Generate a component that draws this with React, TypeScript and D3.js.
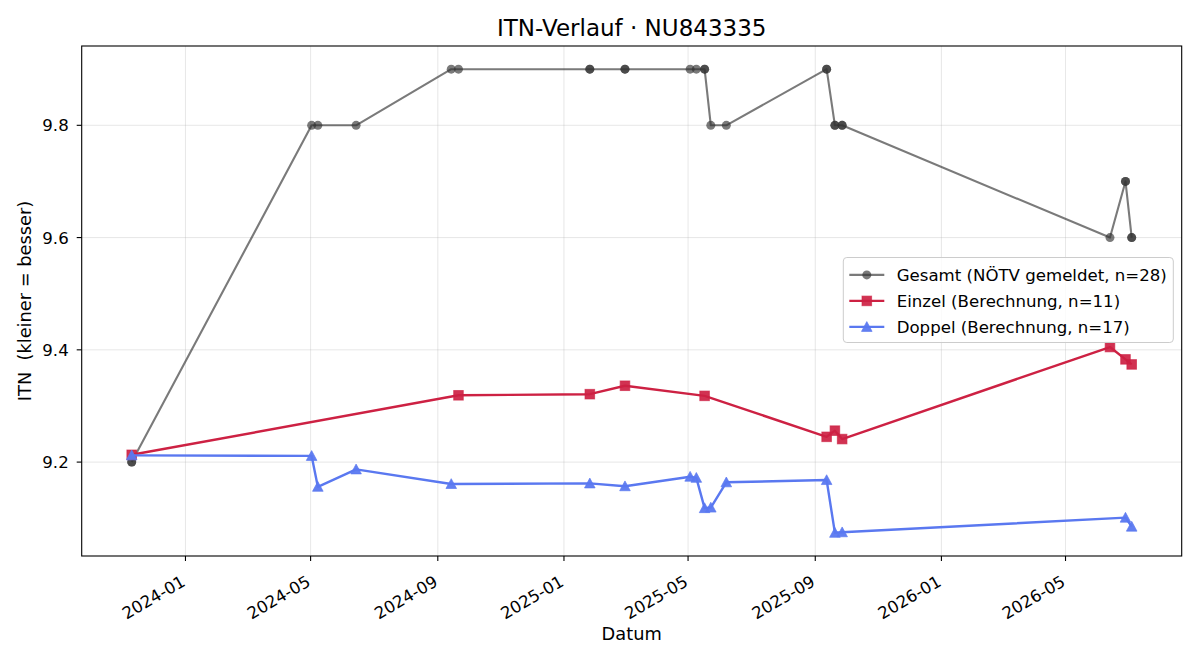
import React from "react";
import * as d3 from "d3";

// ITN history of player NU843335: overall (reported) and computed singles/doubles values
const gesamtDates = [
  "2023-11-10", "2023-11-10", "2024-05-02", "2024-05-08", "2024-06-14", "2024-09-14", "2024-09-21",
  "2025-01-26", "2025-01-26", "2025-03-01", "2025-03-01", "2025-05-03", "2025-05-09", "2025-05-17",
  "2025-05-17", "2025-05-23", "2025-06-07", "2025-09-12", "2025-09-12", "2025-09-20", "2025-09-20",
  "2025-09-27", "2025-09-27", "2026-06-13", "2026-06-28", "2026-06-28", "2026-07-04", "2026-07-04",
];
const gesamtValues = [
  9.2, 9.2, 9.8, 9.8, 9.8, 9.9, 9.9,
  9.9, 9.9, 9.9, 9.9, 9.9, 9.9, 9.9,
  9.9, 9.8, 9.8, 9.9, 9.9, 9.8, 9.8,
  9.8, 9.8, 9.6, 9.7, 9.7, 9.6, 9.6,
];

const einzelDates = [
  "2023-11-10", "2024-09-21", "2025-01-26", "2025-03-01", "2025-05-17", "2025-09-12",
  "2025-09-20", "2025-09-27", "2026-06-13", "2026-06-28", "2026-07-04",
];
const einzelValues = [9.213, 9.319, 9.321, 9.336, 9.318, 9.245, 9.256, 9.241, 9.405, 9.383, 9.374];

const doppelDates = [
  "2023-11-10", "2024-05-02", "2024-05-08", "2024-06-14", "2024-09-14", "2025-01-26",
  "2025-03-01", "2025-05-03", "2025-05-09", "2025-05-17", "2025-05-23", "2025-06-07",
  "2025-09-12", "2025-09-20", "2025-09-27", "2026-06-28", "2026-07-04",
];
const doppelValues = [
  9.212, 9.211, 9.156, 9.187, 9.161, 9.162, 9.157, 9.174, 9.172, 9.118, 9.119, 9.164,
  9.168, 9.074, 9.075, 9.101, 9.085,
];

const yTicks = [9.2, 9.4, 9.6, 9.8];

const titleText = "ITN-Verlauf · NU843335";
const xLabel = "Datum";
const yLabel = "ITN  (kleiner = besser)";
const legendLabels = [
  "Gesamt (NÖTV gemeldet, n=28)",
  "Einzel (Berechnung, n=11)",
  "Doppel (Berechnung, n=17)",
];

type Pt = { d: Date; v: number };
const parse = d3.utcParse("%Y-%m-%d");
const zip = (ds: string[], vs: number[]): Pt[] => ds.map((s, i) => ({ d: parse(s) as Date, v: vs[i] }));

const W = 1200;
const H = 660;
const M = { left: 81.7, right: 1181.7, top: 46, bottom: 556 };
const FONT = "'DejaVu Sans', sans-serif";
const TICK_FS = 16.6;
const LABEL_FS = 17.8;
const LEGEND_FS = 16.6;
const TITLE_FS = 23;

const GRAY = "#333333";
const RED = "#cd2143";
const BLUE = "#5a78f0";

function Marker({ kind, x, y, color, opacity }: { kind: string; x: number; y: number; color: string; opacity: number }) {
  if (kind === "circle") {
    return <circle cx={x} cy={y} r={4.5} fill={color} fillOpacity={opacity} />;
  }
  if (kind === "square") {
    const s = 9.6;
    return <rect x={x - s / 2} y={y - s / 2} width={s} height={s} fill={color} fillOpacity={opacity} stroke={color} strokeOpacity={opacity * 0.7} strokeWidth={1} />;
  }
  const r = 5.3;
  const p = `M${x},${y - r}L${x - r},${y + r * 0.85}L${x + r},${y + r * 0.85}Z`;
  return <path d={p} fill={color} fillOpacity={opacity} stroke={color} strokeOpacity={opacity * 0.7} strokeWidth={1} />;
}

export default function App() {
  const gesamt = zip(gesamtDates, gesamtValues);
  const einzel = zip(einzelDates, einzelValues);
  const doppel = zip(doppelDates, doppelValues);
  const all = [...gesamt, ...einzel, ...doppel];

  const [t0, t1] = d3.extent(all, (p) => p.d.getTime()) as [number, number];
  const [v0, v1] = d3.extent(all, (p) => p.v) as [number, number];
  const tPad = (t1 - t0) * 0.05;
  const vPad = (v1 - v0) * 0.05;

  const x = d3.scaleUtc().domain([new Date(t0 - tPad), new Date(t1 + tPad)]).range([M.left, M.right]);
  const y = d3.scaleLinear().domain([v0 - vPad, v1 + vPad]).range([M.bottom, M.top]);

  const xTicks = x.ticks(d3.utcMonth.every(4) as d3.TimeInterval);
  const fmt = d3.utcFormat("%Y-%m");

  const line = d3.line<Pt>().x((p) => x(p.d)).y((p) => y(p.v));

  const series = [
    { data: gesamt, color: GRAY, lineOpacity: 0.65, markerOpacity: 0.65, width: 2.1, kind: "circle" },
    { data: einzel, color: RED, lineOpacity: 1, markerOpacity: 0.92, width: 2.4, kind: "square" },
    { data: doppel, color: BLUE, lineOpacity: 1, markerOpacity: 0.95, width: 2.4, kind: "triangle" },
  ];

  const legW = 330;
  const legH = 85;
  const legX = M.right - 8.4 - legW;
  const legY = (M.top + M.bottom) / 2 - legH / 2 - 1;
  const rowGap = 26;

  return (
    <svg width={W} height={H} style={{ position: "absolute", left: 0, top: 0, background: "#fff" }} fontFamily={FONT}>
      <rect x={0} y={0} width={W} height={H} fill="#fff" />
      {/* grid */}
      <g stroke="#b0b0b0" strokeOpacity={0.3} strokeWidth={1}>
        {xTicks.map((t, i) => (
          <line key={"gx" + i} x1={x(t)} x2={x(t)} y1={M.top} y2={M.bottom} />
        ))}
        {yTicks.map((v, i) => (
          <line key={"gy" + i} x1={M.left} x2={M.right} y1={y(v)} y2={y(v)} />
        ))}
      </g>

      {/* series */}
      {series.map((s, si) => (
        <g key={"s" + si}>
          <path d={line(s.data) || ""} fill="none" stroke={s.color} strokeOpacity={s.lineOpacity} strokeWidth={s.width} strokeLinejoin="round" />
          {s.data.map((p, i) => (
            <Marker key={i} kind={s.kind} x={x(p.d)} y={y(p.v)} color={s.color} opacity={s.markerOpacity} />
          ))}
        </g>
      ))}

      {/* frame */}
      <rect x={M.left} y={M.top} width={M.right - M.left} height={M.bottom - M.top} fill="none" stroke="#000" strokeWidth={1.1} />

      {/* x axis */}
      {xTicks.map((t, i) => {
        const tx = x(t);
        return (
          <g key={"xt" + i}>
            <line x1={tx} x2={tx} y1={M.bottom} y2={M.bottom + 5} stroke="#000" strokeWidth={1.1} />
            <text transform={`translate(${tx + 1},${M.bottom + 29}) rotate(-30)`} textAnchor="end" fontSize={TICK_FS} fill="#000">
              {fmt(t)}
            </text>
          </g>
        );
      })}

      {/* y axis */}
      {yTicks.map((v, i) => (
        <g key={"yt" + i}>
          <line x1={M.left - 5} x2={M.left} y1={y(v)} y2={y(v)} stroke="#000" strokeWidth={1.1} />
          <text x={M.left - 13} y={y(v) + TICK_FS * 0.36} textAnchor="end" fontSize={TICK_FS} fill="#000">
            {d3.format(".1f")(v)}
          </text>
        </g>
      ))}

      {/* labels */}
      <text x={(M.left + M.right) / 2} y={640} textAnchor="middle" fontSize={LABEL_FS} fill="#000">{xLabel}</text>
      <text transform={`translate(31,${(M.top + M.bottom) / 2}) rotate(-90)`} textAnchor="middle" fontSize={LABEL_FS} fill="#000" style={{ whiteSpace: "pre" }}>{yLabel}</text>
      <text x={(M.left + M.right) / 2} y={36} textAnchor="middle" fontSize={TITLE_FS} fill="#000">{titleText}</text>

      {/* legend */}
      <g>
        <rect x={legX} y={legY} width={legW} height={legH} rx={3.5} fill="#fff" fillOpacity={0.8} stroke="#cccccc" strokeWidth={1} />
        {series.map((s, i) => {
          const ry = legY + 17.4 + i * rowGap;
          const hx0 = legX + 6;
          const hx1 = legX + 41;
          return (
            <g key={"lg" + i}>
              <line x1={hx0} x2={hx1} y1={ry} y2={ry} stroke={s.color} strokeOpacity={s.lineOpacity} strokeWidth={s.width} />
              <Marker kind={s.kind} x={(hx0 + hx1) / 2} y={ry} color={s.color} opacity={s.markerOpacity} />
              <text x={legX + 53.4} y={ry + LEGEND_FS * 0.36} fontSize={LEGEND_FS} fill="#000">{legendLabels[i]}</text>
            </g>
          );
        })}
      </g>
    </svg>
  );
}
